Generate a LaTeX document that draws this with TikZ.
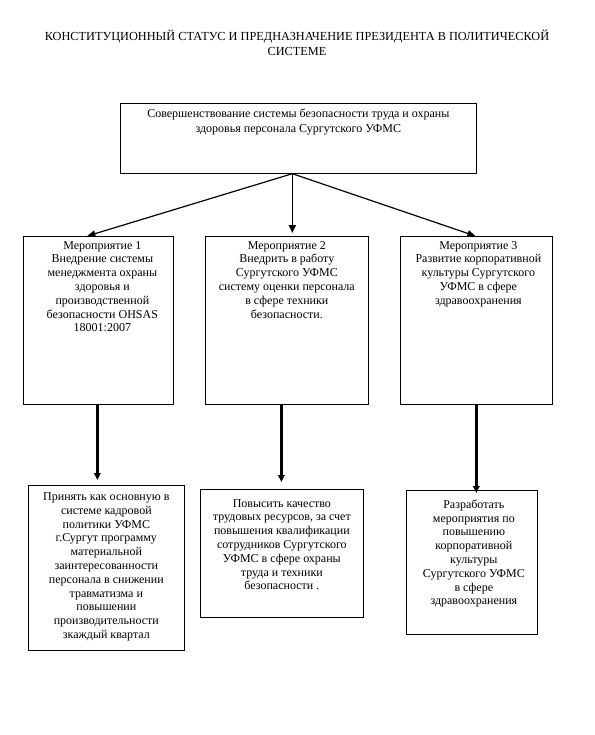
\documentclass[tikz,border=0pt]{standalone}
\usepackage{fontspec}
\setmainfont{Liberation Serif}
\usetikzlibrary{arrows.meta,calc}
\tikzset{
  box/.style={draw, line width=0.7pt, anchor=north west, inner sep=0pt},
  txt/.style={anchor=north, align=center, font=\fontsize{12}{13.8}\selectfont, inner sep=0pt},
  thinarrow/.style={line width=1.2pt, -{Triangle[length=8pt,width=6.5pt]}},
  midarrow/.style={line width=1.6pt, -{Triangle[length=8pt,width=7pt]}},
  thickarrow/.style={line width=2.8pt, -{Triangle[length=7pt,width=6.5pt]}}
}
\begin{document}
\begin{tikzpicture}[x=1pt,y=-1pt]
\useasboundingbox[fill=white] (0,0) rectangle (594,735);
\node[txt, font=\fontsize{12.3}{15}\selectfont] (title) at (297,30) {КОНСТИТУЦИОННЫЙ СТАТУС И ПРЕДНАЗНАЧЕНИЕ ПРЕЗИДЕНТА В ПОЛИТИЧЕСКОЙ\\СИСТЕМЕ};

\node[box, minimum width=356pt, minimum height=70pt] (top) at (120,103) {};
\node[txt, font=\fontsize{12}{15}\selectfont] (ttop) at ([yshift=-6pt]top.north) {Совершенствование системы безопасности труда и охраны\\здоровья персонала Сургутского УФМС};

\node[box, minimum width=150pt, minimum height=168pt] (b1) at (23,236) {};
\node[box, minimum width=163pt, minimum height=168pt] (b2) at (205,236) {};
\node[box, minimum width=152pt, minimum height=168pt] (b3) at (400,236) {};

\node[txt] (t1) at ([xshift=4pt,yshift=-5pt]b1.north) {Мероприятие 1\\Внедрение системы\\менеджмента охраны\\здоровья и\\производственной\\безопасности OHSAS\\18001:2007};
\node[txt] (t2) at ([xshift=0pt,yshift=-5pt]b2.north) {Мероприятие 2\\Внедрить в работу\\Сургутского УФМС\\систему оценки персонала\\в сфере техники\\безопасности.};
\node[txt] (t3) at ([xshift=2pt,yshift=-5pt]b3.north) {Мероприятие 3\\Развитие корпоративной\\культуры Сургутского\\УФМС в сфере\\здравоохранения};

\node[box, minimum width=156pt, minimum height=165pt] (c1) at (28,485) {};
\node[box, minimum width=163pt, minimum height=128pt] (c2) at (200,489) {};
\node[box, minimum width=131pt, minimum height=144pt] (c3) at (406,490) {};

\node[txt] (u1) at ([yshift=-7.5pt]c1.north) {Принять как основную в\\системе кадровой\\политики УФМС\\г.Сургут программу\\материальной\\заинтересованности\\персонала в снижении\\травматизма и\\повышении\\производительности\\зкаждый квартал};
\node[txt] (u2) at ([yshift=-10pt]c2.north) {Повысить качество\\трудовых ресурсов, за счет\\повышения квалификации\\сотрудников Сургутского\\УФМС в сфере охраны\\труда и техники\\безопасности .};
\node[txt] (u3) at ([xshift=2pt,yshift=-9.5pt]c3.north) {Разработать\\мероприятия по\\повышению\\корпоративной\\культуры\\Сургутского УФМС\\в сфере\\здравоохранения};

\coordinate (src) at ([xshift=-6pt]top.south);
\coordinate (b2in) at ([xshift=5.5pt,yshift=3pt]b2.north);
\draw[thinarrow] (src) -- ([xshift=-11pt]b1.north);
\draw[midarrow] (src) -- (b2in);
\draw[thinarrow] (src) -- ([xshift=-1pt]b3.north);

\coordinate (c1in) at ([xshift=-1pt,yshift=5pt]b1.south |- c1.north);
\coordinate (c2in) at ([xshift=-5.5pt,yshift=7pt]b2.south |- c2.north);
\coordinate (c3in) at ([yshift=-3pt]b3.south |- c3.north);
\draw[thickarrow] ([xshift=-1pt]b1.south) -- (c1in);
\draw[thickarrow] ([xshift=-5.5pt]b2.south) -- (c2in);
\draw[thickarrow] (b3.south) -- (c3in);
\end{tikzpicture}
\end{document}
